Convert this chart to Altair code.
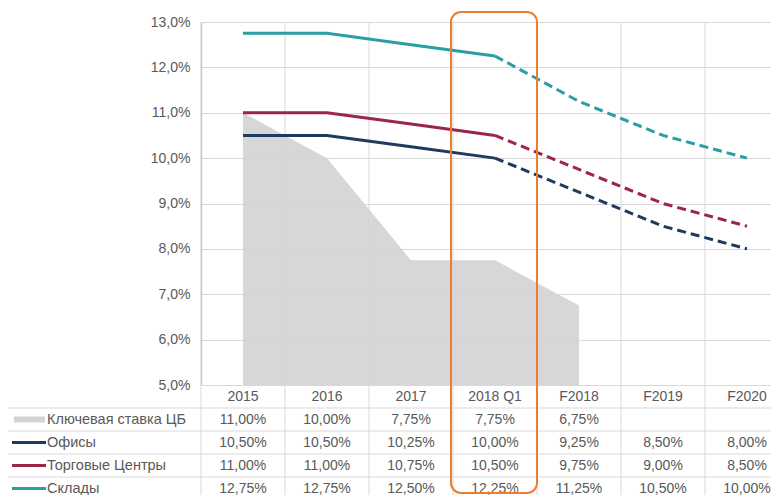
import altair as alt
import pandas as pd

# ---------------- data ----------------
categories = ["2015", "2016", "2017", "2018 Q1", "F2018", "F2019", "F2020"]
key_rate = [11.00, 10.00, 7.75, 7.75, 6.75, None, None]
offices = [10.50, 10.50, 10.25, 10.00, 9.25, 8.50, 8.00]
malls = [11.00, 11.00, 10.75, 10.50, 9.75, 9.00, 8.50]
warehouses = [12.75, 12.75, 12.50, 12.25, 11.25, 10.50, 10.00]
series_names = ["Ключевая ставка ЦБ", "Офисы", "Торговые Центры", "Склады"]
series_colors = ["#d3d3d3", "#1f3a5f", "#9b2646", "#2a9ea6"]
y_ticks = [5, 6, 7, 8, 9, 10, 11, 12, 13]
last_actual = "2018 Q1"
highlight = "2018 Q1"

# ---------------- style ----------------
FONT = "Liberation Sans"
TXT = "#595959"
GRID = "#d9d9d9"
W, H = 570, 363
STEP = 84.0
ROW = 23
FS = 14
FS_T = 14
FS_L = 14.5

all_series = [key_rate, offices, malls, warehouses]
cut = categories.index(last_actual)

recs = []
for r, (name, vals) in enumerate(zip(series_names, all_series), start=1):
    for i, (c, v) in enumerate(zip(categories, vals)):
        if v is None:
            continue
        recs.append({"name": name, "cat": c, "idx": i, "ridx": r, "value": v,
                     "label": f"{v:.2f}".replace(".", ",") + "%"})
df = pd.DataFrame(recs)
df_cat = pd.DataFrame({"cat": categories, "idx": list(range(len(categories))), "ridx": 0})
df_rows = pd.DataFrame({"name": series_names, "ridx": list(range(1, len(series_names) + 1))})
n_rows = len(series_names) + 1

xs = alt.Scale(domain=[-0.5, len(categories) - 0.5], range=[0, STEP * len(categories)], nice=False, zero=False)
ys = alt.Scale(domain=[y_ticks[0], y_ticks[-1]], nice=False, zero=False)
ts = alt.Scale(domain=[-0.5, n_rows - 0.5], range=[H, H + n_rows * ROW], nice=False, zero=False)
cs = alt.Scale(domain=series_names, range=series_colors)

X = alt.X("idx:Q", scale=xs, axis=None)

yaxis = alt.Axis(values=y_ticks, title=None, ticks=False, labelPadding=11,
                 labelExpr="replace(format(datum.value, '.1f'), '.', ',') + '%'",
                 labelColor=TXT, labelFont=FONT, labelFontSize=FS,
                 domainColor="#bfbfbf", domainWidth=1.5, gridColor=GRID, gridWidth=1)

# vertical grid / table column separators
vgrid = alt.Chart(df_cat).transform_calculate(b="datum.idx - 0.5").mark_rule(
    color=GRID, strokeWidth=1).encode(
    x=alt.X("b:Q", scale=xs, axis=None), y=alt.value(0), y2=alt.value(H + n_rows * ROW))

area = alt.Chart(df[df["name"] == series_names[0]]).mark_area(
    color=series_colors[0], opacity=0.9).encode(
    x=X, y=alt.Y("value:Q", scale=ys, axis=yaxis), y2=alt.datum(y_ticks[0]))

line_df = df[df["name"] != series_names[0]]
solid = alt.Chart(line_df[line_df["idx"] <= cut]).mark_line(strokeWidth=3).encode(
    x=X, y=alt.Y("value:Q", scale=ys, axis=None),
    color=alt.Color("name:N", scale=cs, legend=None))
dashed = alt.Chart(line_df[line_df["idx"] >= cut]).mark_line(strokeWidth=3, strokeDash=[9, 5]).encode(
    x=X, y=alt.Y("value:Q", scale=ys, axis=None),
    color=alt.Color("name:N", scale=cs, legend=None))

# table
hlines = alt.Chart(df_rows).transform_calculate(s="datum.ridx - 0.5").mark_rule(
    color=GRID, strokeWidth=1).encode(
    y=alt.Y("s:Q", scale=ts, axis=None), x=alt.value(-194), x2=alt.value(W + 40))
border = alt.Chart(pd.DataFrame({"t": [0.5], "b2": [n_rows - 0.5 + 1]})).mark_rule(
    color=GRID, strokeWidth=1).encode(
    x=alt.value(-194), y=alt.Y("t:Q", scale=ts, axis=None), y2="b2:Q")

header = alt.Chart(df_cat).mark_text(font=FONT, fontSize=FS_T, color=TXT).encode(
    x=X, y=alt.Y("ridx:Q", scale=ts, axis=None), text="cat:N")
cells = alt.Chart(df).mark_text(font=FONT, fontSize=FS_T, color=TXT).encode(
    x=X, y=alt.Y("ridx:Q", scale=ts, axis=None), text="label:N")
row_labels = alt.Chart(df_rows).mark_text(font=FONT, fontSize=FS_L, color=TXT, align="left").encode(
    x=alt.value(-154), y=alt.Y("ridx:Q", scale=ts, axis=None), text="name:N")
key_bar = alt.Chart(df_rows[df_rows["ridx"] == 1]).mark_rule(strokeWidth=6).encode(
    x=alt.value(-187), x2=alt.value(-156), y=alt.Y("ridx:Q", scale=ts, axis=None),
    color=alt.Color("name:N", scale=cs, legend=None))
key_lines = alt.Chart(df_rows[df_rows["ridx"] > 1]).mark_rule(strokeWidth=3).encode(
    x=alt.value(-189), x2=alt.value(-155), y=alt.Y("ridx:Q", scale=ts, axis=None),
    color=alt.Color("name:N", scale=cs, legend=None))

hl = alt.Chart(df_cat[df_cat["cat"] == highlight]).transform_calculate(
    x1="datum.idx - 0.5", x2="datum.idx + 0.5").mark_rect(
    fill="transparent", stroke="#ed7d31", strokeWidth=2, cornerRadius=10,
    xOffset=-2, x2Offset=0).encode(
    x=alt.X("x1:Q", scale=xs, axis=None), x2="x2:Q", y=alt.value(-10), y2=alt.value(471))

chart = alt.layer(vgrid, area, solid, dashed, hlines, border, header, cells,
                  row_labels, key_bar, key_lines, hl).resolve_scale(y="independent").properties(
    width=W, height=H,
    autosize=alt.AutoSizeParams(type="none"),
    padding={"left": 193, "top": 14, "right": 0, "bottom": 110},
    background="white",
).configure_view(stroke=None)

chart.save("out.html", embed_options={"renderer": "svg", "actions": False})
